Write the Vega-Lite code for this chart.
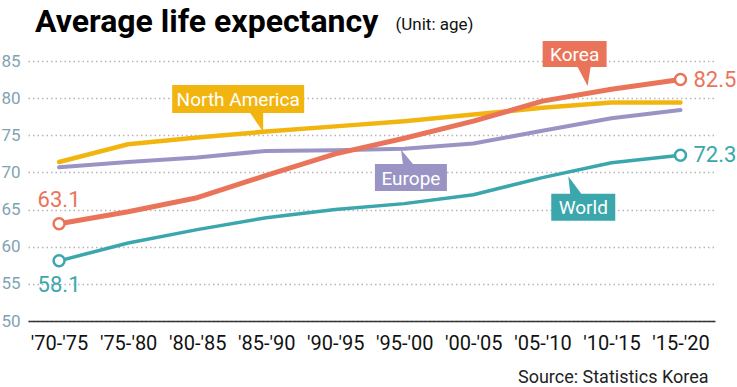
{
  "$schema": "https://vega.github.io/schema/vega-lite/v6.json",
  "width": 687,
  "height": 260,
  "autosize": {"type": "none"},
  "padding": {"left": 28, "top": 61, "right": 22, "bottom": 66},
  "background": "white",
  "config": {"view": {"stroke": null}, "font": "Roboto"},
  "title": {
    "text": "Average life expectancy",
    "anchor": "start",
    "frame": "group",
    "dx": 7,
    "dy": 19,
    "offset": -30,
    "baseline": "alphabetic",
    "fontSize": 32,
    "fontWeight": "bold",
    "color": "#000000",
    "font": "Roboto"
  },
  "datasets": {
    "lines": [
      {"series": "Europe", "period": "'70-'75", "i": 0, "value": 70.7},
      {"series": "Europe", "period": "'75-'80", "i": 1, "value": 71.4},
      {"series": "Europe", "period": "'80-'85", "i": 2, "value": 72.0},
      {"series": "Europe", "period": "'85-'90", "i": 3, "value": 72.9},
      {"series": "Europe", "period": "'90-'95", "i": 4, "value": 73.0},
      {"series": "Europe", "period": "'95-'00", "i": 5, "value": 73.2},
      {"series": "Europe", "period": "'00-'05", "i": 6, "value": 73.9},
      {"series": "Europe", "period": "'05-'10", "i": 7, "value": 75.6},
      {"series": "Europe", "period": "'10-'15", "i": 8, "value": 77.3},
      {"series": "Europe", "period": "'15-'20", "i": 9, "value": 78.4},
      {"series": "North America", "period": "'70-'75", "i": 0, "value": 71.4},
      {"series": "North America", "period": "'75-'80", "i": 1, "value": 73.8},
      {"series": "North America", "period": "'80-'85", "i": 2, "value": 74.7},
      {"series": "North America", "period": "'85-'90", "i": 3, "value": 75.5},
      {"series": "North America", "period": "'90-'95", "i": 4, "value": 76.2},
      {"series": "North America", "period": "'95-'00", "i": 5, "value": 76.9},
      {"series": "North America", "period": "'00-'05", "i": 6, "value": 77.8},
      {"series": "North America", "period": "'05-'10", "i": 7, "value": 78.7},
      {"series": "North America", "period": "'10-'15", "i": 8, "value": 79.4},
      {"series": "North America", "period": "'15-'20", "i": 9, "value": 79.4},
      {"series": "World", "period": "'70-'75", "i": 0, "value": 58.1},
      {"series": "World", "period": "'75-'80", "i": 1, "value": 60.5},
      {"series": "World", "period": "'80-'85", "i": 2, "value": 62.3},
      {"series": "World", "period": "'85-'90", "i": 3, "value": 63.9},
      {"series": "World", "period": "'90-'95", "i": 4, "value": 65.0},
      {"series": "World", "period": "'95-'00", "i": 5, "value": 65.8},
      {"series": "World", "period": "'00-'05", "i": 6, "value": 67.0},
      {"series": "World", "period": "'05-'10", "i": 7, "value": 69.3},
      {"series": "World", "period": "'10-'15", "i": 8, "value": 71.3},
      {"series": "World", "period": "'15-'20", "i": 9, "value": 72.3},
      {"series": "Korea", "period": "'70-'75", "i": 0, "value": 63.1},
      {"series": "Korea", "period": "'75-'80", "i": 1, "value": 64.7},
      {"series": "Korea", "period": "'80-'85", "i": 2, "value": 66.6},
      {"series": "Korea", "period": "'85-'90", "i": 3, "value": 69.6},
      {"series": "Korea", "period": "'90-'95", "i": 4, "value": 72.5},
      {"series": "Korea", "period": "'95-'00", "i": 5, "value": 74.6},
      {"series": "Korea", "period": "'00-'05", "i": 6, "value": 76.9},
      {"series": "Korea", "period": "'05-'10", "i": 7, "value": 79.6},
      {"series": "Korea", "period": "'10-'15", "i": 8, "value": 81.2},
      {"series": "Korea", "period": "'15-'20", "i": 9, "value": 82.5}
    ],
    "labels": [
      {"series": "Korea", "i": 7.467, "value": 85.94},
      {"series": "North America", "i": 2.594, "value": 79.88},
      {"series": "Europe", "i": 5.096, "value": 69.31},
      {"series": "World", "i": 7.592, "value": 65.3}
    ]
  },
  "encoding": {
    "x": {
      "field": "i",
      "type": "quantitative",
      "scale": {"domain": [-0.45, 9.5], "nice": false, "zero": false},
      "axis": {
        "values": [0, 1, 2, 3, 4, 5, 6, 7, 8, 9],
        "labelExpr": "[\"'70-'75\",\"'75-'80\",\"'80-'85\",\"'85-'90\",\"'90-'95\",\"'95-'00\",\"'00-'05\",\"'05-'10\",\"'10-'15\",\"'15-'20\"][datum.value]",
        "ticks": false,
        "grid": false,
        "domainColor": "#333333",
        "domainWidth": 1.5,
        "labelFont": "Roboto",
        "labelFontSize": 20,
        "labelColor": "#111111",
        "labelPadding": 12,
        "labelFlush": false,
        "labelOverlap": false,
        "title": "Source: Statistics Korea",
        "titleFont": "Roboto",
        "titleX": 680,
        "titleY": 61,
        "titleAlign": "right",
        "titleBaseline": "alphabetic",
        "titleFontSize": 18,
        "titleFontWeight": "normal",
        "titleColor": "#222222"
      }
    },
    "y": {
      "field": "value",
      "type": "quantitative",
      "scale": {"domain": [50, 85], "nice": false, "zero": false},
      "axis": {
        "values": [50, 55, 60, 65, 70, 75, 80, 85],
        "domain": false,
        "ticks": false,
        "grid": true,
        "gridColor": "#b5b5b5",
        "gridDash": [1.5, 3],
        "gridWidth": 1.3,
        "labelFont": "Roboto",
        "labelFontSize": 17,
        "labelColor": "#7fa3b3",
        "labelPadding": 8,
        "title": "(Unit: age)",
        "titleFont": "Roboto",
        "titleAngle": 0,
        "titleX": 367,
        "titleY": -32,
        "titleAlign": "left",
        "titleBaseline": "alphabetic",
        "titleFontSize": 17,
        "titleFontWeight": "normal",
        "titleColor": "#111111"
      }
    }
  },
  "layer": [
    {
      "data": {"name": "lines"},
      "mark": {"type": "line", "strokeCap": "round", "strokeJoin": "round"},
      "encoding": {
        "color": {
          "field": "series",
          "type": "nominal",
          "scale": {"domain": ["Korea", "North America", "Europe", "World"], "range": ["#ea7459", "#f2b50f", "#9a94c5", "#3ba7ad"]},
          "legend": null
        },
        "strokeWidth": {
          "field": "series",
          "type": "nominal",
          "scale": {"domain": ["Korea", "North America", "Europe", "World"], "range": [5, 3.5, 3, 5]},
          "legend": null
        }
      }
    },
    {
      "data": {"name": "lines"},
      "transform": [
        {"filter": "(datum.series === 'Korea' || datum.series === 'World') && (datum.i === 0 || datum.i === 9)"}
      ],
      "mark": {"type": "point", "shape": "circle", "size": 120, "filled": true, "fill": "white", "strokeWidth": 2.5, "opacity": 1},
      "encoding": {
        "stroke": {
          "field": "series",
          "type": "nominal",
          "scale": {"domain": ["Korea", "North America", "Europe", "World"], "range": ["#ea7459", "#f2b50f", "#9a94c5", "#3ba7ad"]},
          "legend": null
        }
      }
    },
    {
      "data": {"name": "lines"},
      "transform": [{"filter": "datum.series === 'Korea' && datum.i === 0"}],
      "mark": {"type": "text", "fontSize": 22, "dy": -24, "align": "center", "baseline": "middle", "font": "Roboto"},
      "encoding": {
        "text": {"field": "value", "type": "quantitative", "format": ".1f"},
        "color": {"field": "series", "type": "nominal", "legend": null}
      }
    },
    {
      "data": {"name": "lines"},
      "transform": [{"filter": "datum.series === 'World' && datum.i === 0"}],
      "mark": {"type": "text", "fontSize": 22, "dy": 24, "align": "center", "baseline": "middle", "font": "Roboto"},
      "encoding": {
        "text": {"field": "value", "type": "quantitative", "format": ".1f"},
        "color": {"field": "series", "type": "nominal", "legend": null}
      }
    },
    {
      "data": {"name": "lines"},
      "transform": [{"filter": "(datum.series === 'Korea' || datum.series === 'World') && datum.i === 9"}],
      "mark": {"type": "text", "fontSize": 22, "dx": 13, "align": "left", "baseline": "middle", "font": "Roboto"},
      "encoding": {
        "text": {"field": "value", "type": "quantitative", "format": ".1f"},
        "color": {"field": "series", "type": "nominal", "legend": null}
      }
    },
    {
      "data": {"name": "labels"},
      "mark": {"type": "point", "filled": true, "size": 4, "opacity": 1, "strokeWidth": 0},
      "encoding": {
        "shape": {
          "field": "series",
          "type": "nominal",
          "scale": {
            "domain": ["Korea", "North America", "Europe", "World"],
            "range": [
              "M-32,-13L32,-13L32,13L16,13L13,32L3,13L-32,13Z",
              "M-66,-14L66,-14L66,14L25,14L25,33L12,14L-66,14Z",
              "M-36,-13.5L-8,-13.5L-10,-28L2,-13.5L36,-13.5L36,13.5L-36,13.5Z",
              "M-32,-13.5L-13,-13.5L-15,-31L-2,-13.5L32,-13.5L32,13.5L-32,13.5Z"
            ]
          },
          "legend": null
        },
        "color": {"field": "series", "type": "nominal", "legend": null}
      }
    },
    {
      "data": {"name": "labels"},
      "mark": {"type": "text", "fontSize": 19, "color": "white", "align": "center", "baseline": "middle", "dy": 1, "font": "Roboto"},
      "encoding": {
        "text": {"field": "series", "type": "nominal"}
      }
    }
  ]
}
